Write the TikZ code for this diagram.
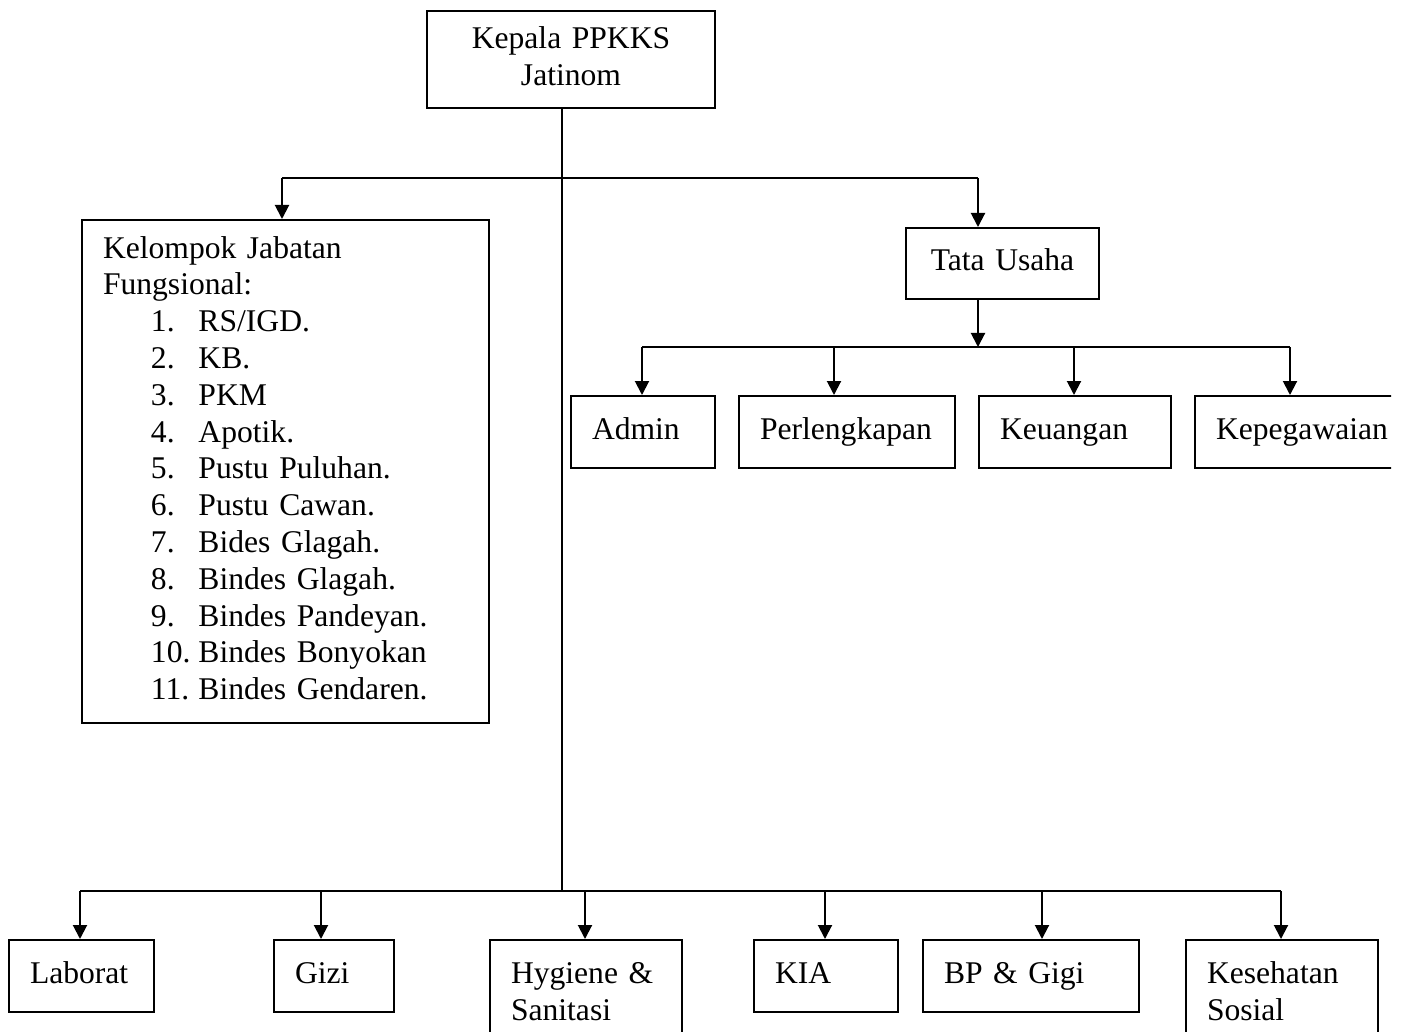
\documentclass[tikz,border=0pt]{standalone}
\usepackage{fontspec}
\setmainfont{Liberation Serif}
\usepackage{tikz}
\usetikzlibrary{arrows.meta, positioning}

\newcommand\bodyfont{\fontsize{15.8pt}{18.4pt}\selectfont}
\newcommand\fitem[2]{\hspace*{24pt}\makebox[23.75pt][l]{#1}#2}

\begin{document}
\begin{tikzpicture}[
    x=0.5pt, y=-0.5pt,
    box/.style={draw, line width=1pt, anchor=north west, inner xsep=10.5pt, inner ysep=0pt,
        align=left, font=\bodyfont, minimum height=36pt,
        execute at begin node=\strut, execute at end node=\strut},
    conn/.style={-, line width=1pt},
    arr/.style={conn, -{Triangle[length=7pt, width=7pt]}}
]
    \useasboundingbox (0,0) rectangle (1403,1032);
    \clip (0,0) rectangle (1391,1032);
    % Head
    \node[box, align=center, text width=123pt, minimum height=48.5pt] (kepala) at (426,10) {Kepala PPKKS\\Jatinom};
    % Functional group
    \node[box, text width=182.5pt, minimum height=251.5pt] (fungsi) at (81,219) {Kelompok Jabatan\\
        Fungsional:\\
        \fitem{1.}{RS/IGD.}\\
        \fitem{2.}{KB.}\\
        \fitem{3.}{PKM}\\
        \fitem{4.}{Apotik.}\\
        \fitem{5.}{Pustu Puluhan.}\\
        \fitem{6.}{Pustu Cawan.}\\
        \fitem{7.}{Bides Glagah.}\\
        \fitem{8.}{Bindes Glagah.}\\
        \fitem{9.}{Bindes Pandeyan.}\\
        \fitem{10.}{Bindes Bonyokan}\\
        \fitem{11.}{Bindes Gendaren.}};
    % Administration
    \node[box, align=center, text width=75.5pt, minimum height=35.5pt] (tu) at (905,227) {Tata Usaha};
    \node[box, text width=51pt] (admin) at (570,395) {Admin};
    \node[box, text width=87pt] (perl) at (738,395) {Perlengkapan};
    \node[box, text width=75pt] (keu) at (978,395) {Keuangan};
    \node[box, text width=87pt] (kepeg) at (1194,395) {Kepegawaian};
    % Units
    \node[box, text width=51.5pt] (lab) at (8,939) {Laborat};
    \node[box, text width=39pt] (gizi) at (273,939) {Gizi};
    \node[box, text width=75pt, minimum height=54.5pt] (hyg) at (489,939) {Hygiene \&\\Sanitasi};
    \node[box, text width=51pt] (kia) at (753,939) {KIA};
    \node[box, text width=87pt] (bp) at (922,939) {BP \& Gigi};
    \node[box, text width=75pt, minimum height=54.5pt] (kes) at (1185,939) {Kesehatan\\Sosial};

    % Spine
    \coordinate (spine) at (562,891);
    \draw[conn] (kepala.south -| spine) -- (spine);
    % Upper branch
    \coordinate (ufun) at (282,178);
    \coordinate (utu) at (978,178);
    \draw[conn] (ufun) -- (utu);
    \draw[arr] (ufun) -- (fungsi.north -| ufun);
    \draw[arr] (utu) -- (tu.north -| utu);
    % Tata Usaha sections
    \coordinate (dtu) at (978,347);
    \draw[arr] (tu.south -| dtu) -- (dtu);
    \foreach \n/\ax in {admin/642, perl/834, keu/1074, kepeg/1290} {
        \coordinate (d\n) at (\ax,347);
        \draw[arr] (d\n) -- (\n.north -| d\n);
    }
    \draw[conn] (dadmin) -- (dkepeg);
    % Lower branch
    \foreach \n/\ax in {lab/80, gizi/321, hyg/585, kia/825, bp/1042, kes/1281} {
        \coordinate (d\n) at (\ax,891);
        \draw[arr] (d\n) -- (\n.north -| d\n);
    }
    \draw[conn] (dlab) -- (dkes);
\end{tikzpicture}
\end{document}
